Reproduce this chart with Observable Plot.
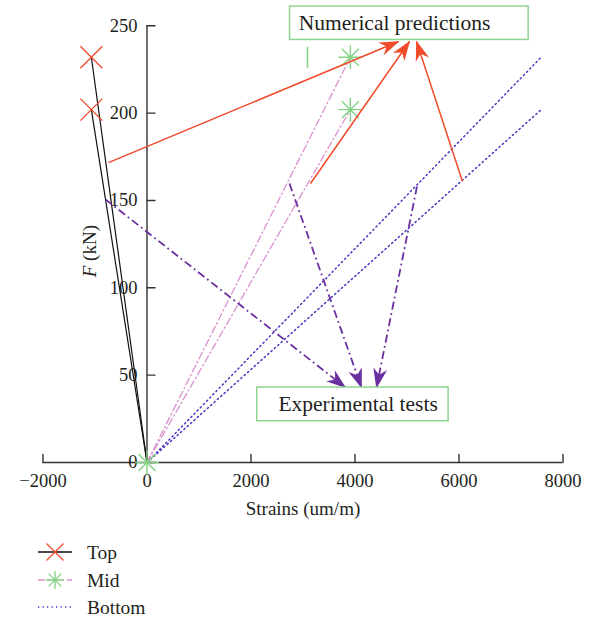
<!DOCTYPE html>
<html><head><meta charset="utf-8">
<script src="https://cdn.jsdelivr.net/npm/d3@7"></script>
<script src="https://cdn.jsdelivr.net/npm/@observablehq/plot@0.6"></script>
<style>
body{margin:0;background:#fff;}
#chart svg{display:block;}
#legend svg{display:block;}
</style></head>
<body><div id="chart"></div><div id="legend"></div>
<script>
// ---- data ----
const seriesNames = ["Top", "Mid", "Bottom"];
const startStrain = 0, startForce = 0;
const endForce = [232, 202];            // kN, two gauges per level
const topEndStrain = [-1070, -1070];     // um/m
const midEndStrain = [3910, 3910];
const bottomEndStrain = [7580, 7580];
const xTicks = [-2000, 0, 2000, 4000, 6000, 8000];
const yTicks = [0, 50, 100, 150, 200, 250];
const xLabel = "Strains (um/m)";
const yLabelItalic = "F", yLabelRest = " (kN)";
const yLabelPos = {x: -1090, y: 121};
// annotations
const numText = "Numerical predictions";
const numBox = {x1: 2750, x2: 7340, y1: 241.9, y2: 261.0};
const numTextPos = {x: 4760, y: 251.5};
const numArrowX1 = [-740, 3144, 6067], numArrowY1 = [171.7, 159.7, 160.9];
const numArrowX2 = [4837, 5048, 5183], numArrowY2 = [241.0, 241.0, 241.0];
const expText = "Experimental tests";
const expBox = {x1: 2120, x2: 5800, y1: 23.6, y2: 42.9};
const expTextPos = {x: 4060, y: 33.2};
const expArrowX1 = [-798, 2740, 5192], expArrowY1 = [150.6, 159.7, 158.0];
const expArrowX2 = [3817, 4125, 4413], expArrowY2 = [42.9, 42.9, 42.9];
const stubX = [3087], stubY1 = [225.6], stubY2 = [237.7];

// ---- styles ----
const C = {top: "#111", topMark: "#f04b2b", mid: "#d991cf", midMark: "#84d384",
           bottom: "#4838bf", red: "#f04b2b", purple: "#6a2fa0", box: "#8fd48f", axis: "#333", text: "#231f20"};
const DASH_MID = "7,3,1.5,3", DASH_BOT = "1.3,3.2", DASH_EXP = "8,3.5,1.8,3.5";

function lineRows(name, ends) {
  const rows = [];
  ends.forEach((e, g) => {
    rows.push({series: name, g, strain: startStrain, force: startForce});
    rows.push({series: name, g, strain: e, force: endForce[g]});
  });
  return rows;
}
const topRows = lineRows("Top", topEndStrain);
const midRows = lineRows("Mid", midEndStrain);
const botRows = lineRows("Bottom", bottomEndStrain);
const topMarks = topEndStrain.map((s, i) => ({strain: s, force: endForce[i]}));
const midMarks = [{strain: startStrain, force: startForce}, ...midEndStrain.map((s, i) => ({strain: s, force: endForce[i]}))];
const numArrows = numArrowX1.map((_, i) => ({x1: numArrowX1[i], y1: numArrowY1[i], x2: numArrowX2[i], y2: numArrowY2[i]}));
const expArrows = expArrowX1.map((_, i) => ({x1: expArrowX1[i], y1: expArrowY1[i], x2: expArrowX2[i], y2: expArrowY2[i]}));

const symX = {draw(ctx, size) {const r = Math.sqrt(size / Math.PI); ctx.moveTo(-r, -r); ctx.lineTo(r, r); ctx.moveTo(-r, r); ctx.lineTo(r, -r);}};
const symAst = {draw(ctx, size) {const r = Math.sqrt(size / Math.PI);
  for (let k = 0; k < 4; k++) {const a = k * Math.PI / 4; ctx.moveTo(-r * Math.cos(a), -r * Math.sin(a)); ctx.lineTo(r * Math.cos(a), r * Math.sin(a));}}};
const tickShape = {draw(ctx, l) {ctx.moveTo(0, 0); ctx.lineTo(0, -l);}};

function arrowHead(color) {
  return () => {
    const m = d3.create("svg:marker")
      .attr("viewBox", "-22 -11 24 22")
      .attr("markerWidth", 24).attr("markerHeight", 22)
      .attr("markerUnits", "userSpaceOnUse")
      .attr("orient", "auto").attr("refX", 0).attr("refY", 0);
    m.append("path").attr("d", "M1,0L-19,-7L-13,0L-19,7Z").attr("fill", color).attr("stroke", "none").attr("stroke-dasharray", "none");
    return m.node();
  };
}

const FONT = "'Liberation Serif', 'DejaVu Serif', serif";
const chart = Plot.plot({
  width: 599, height: 530,
  marginLeft: 42.5, marginRight: 36.5, marginTop: 25.3, marginBottom: 68,
  x: {domain: [-2000, 8000], axis: null},
  y: {domain: [0, 250], axis: null},
  style: {fontFamily: FONT, fontSize: "18px", color: C.text, background: "#fff", overflow: "visible"},
  marks: [
    // axes drawn through the scales, crossing at the origin
    Plot.ruleY([0], {x1: -2000, x2: 8000, stroke: C.axis, strokeWidth: 1.4}),
    Plot.ruleX([0], {y1: 0, y2: 250, stroke: C.axis, strokeWidth: 1.4}),
    Plot.vector(xTicks, {x: d => d, y: 0, length: 8, rotate: 0, anchor: "start", shape: tickShape, stroke: C.axis, strokeWidth: 1.4}),
    Plot.vector(yTicks, {x: 0, y: d => d, length: 8, rotate: 90, anchor: "start", shape: tickShape, stroke: C.axis, strokeWidth: 1.4}),
    Plot.text(xTicks, {x: d => d, y: 0, text: d => d < 0 ? "\u2212" + Math.abs(d) : String(d), dy: 19, fontSize: 18.5, fill: C.text}),
    Plot.text(yTicks, {x: 0, y: d => d, text: d => String(d), textAnchor: "end", dx: -9.5, fontSize: 18.5, fill: C.text}),
    Plot.text([xLabel], {frameAnchor: "bottom", dy: 46, fontSize: 19, fill: C.text, lineAnchor: "middle"}),
    Plot.text([yLabelPos], {x: "x", y: "y", text: () => yLabelItalic + yLabelRest, rotate: -90, fontSize: 19, fill: C.text}),
    // series lines
    Plot.line(botRows, {x: "strain", y: "force", z: "g", stroke: C.bottom, strokeWidth: 1.5, strokeDasharray: DASH_BOT}),
    Plot.line(midRows, {x: "strain", y: "force", z: "g", stroke: C.mid, strokeWidth: 1.3, strokeDasharray: DASH_MID}),
    Plot.line(topRows, {x: "strain", y: "force", z: "g", stroke: C.top, strokeWidth: 1.2}),
    Plot.dot(topMarks, {x: "strain", y: "force", symbol: symX, r: 11, fill: "none", stroke: C.topMark, strokeWidth: 1.3}),
    Plot.dot(midMarks, {x: "strain", y: "force", symbol: symAst, r: 12, fill: "none", stroke: C.midMark, strokeWidth: 1.4}),
    Plot.ruleX(stubX, {x: d => d, y1: stubY1[0], y2: stubY2[0], stroke: C.midMark, strokeWidth: 1.6}),
    // annotations
    Plot.link(expArrows, {x1: "x1", y1: "y1", x2: "x2", y2: "y2", stroke: C.purple, strokeWidth: 1.8, strokeDasharray: DASH_EXP, markerEnd: arrowHead(C.purple)}),
    Plot.link(numArrows, {x1: "x1", y1: "y1", x2: "x2", y2: "y2", stroke: C.red, strokeWidth: 1.5, markerEnd: arrowHead(C.red)}),
    Plot.rect([numBox], {x1: "x1", x2: "x2", y1: "y1", y2: "y2", fill: "white", stroke: C.box, strokeWidth: 1.5}),
    Plot.rect([expBox], {x1: "x1", x2: "x2", y1: "y1", y2: "y2", fill: "white", stroke: C.box, strokeWidth: 1.5}),
    Plot.text([numTextPos], {x: "x", y: "y", text: () => numText, fontSize: 21.5, fill: C.text}),
    Plot.text([expTextPos], {x: "x", y: "y", text: () => expText, fontSize: 21.5, fill: C.text})
  ]
});
d3.select(chart).selectAll("text").filter(function () {return this.textContent === yLabelItalic + yLabelRest;})
  .each(function () {const t = d3.select(this); t.text(""); t.append("tspan").attr("font-style", "italic").text(yLabelItalic); t.append("tspan").text(yLabelRest);});
document.getElementById("chart").append(chart);

// ---- legend below the chart ----
const legendY = [22, 50, 77];
const lg = d3.select("#legend").append("svg").attr("width", 599).attr("height", 90)
  .style("font-family", FONT).style("font-size", "19.5px");
const legendStyle = [
  {stroke: C.top, dash: null, sym: symX, symColor: C.topMark, r: 8.5, w: 1.3},
  {stroke: C.mid, dash: DASH_MID, sym: symAst, symColor: C.midMark, r: 9, w: 1.5},
  {stroke: C.bottom, dash: DASH_BOT, sym: null, symColor: null, r: 0, w: 1.5}
];
seriesNames.forEach((name, i) => {
  const s = legendStyle[i], y = legendY[i];
  lg.append("line").attr("x1", 38).attr("x2", 72).attr("y1", y).attr("y2", y)
    .attr("stroke", s.stroke).attr("stroke-width", s.w).attr("stroke-dasharray", s.dash);
  if (s.sym) lg.append("path").attr("transform", `translate(55,${y})`)
    .attr("d", d3.symbol(s.sym, Math.PI * s.r * s.r)()).attr("fill", "none").attr("stroke", s.symColor).attr("stroke-width", 1.3);
  lg.append("text").attr("x", 87).attr("y", y).attr("dy", "0.35em").attr("fill", C.text).text(name);
});
</script>
</body></html>
